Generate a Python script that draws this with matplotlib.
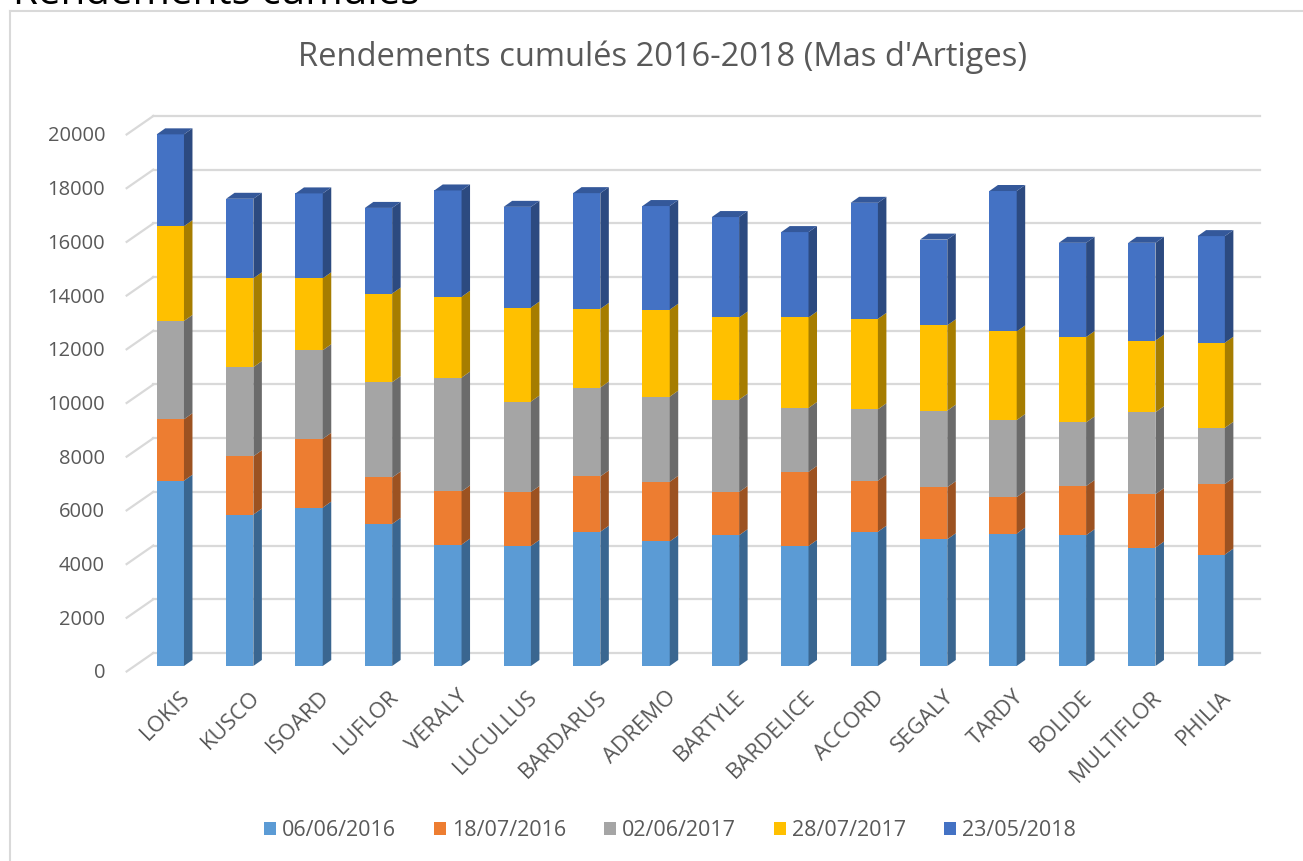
import matplotlib
matplotlib.use("Agg")
import matplotlib.pyplot as plt
from matplotlib.lines import Line2D
from matplotlib.transforms import ScaledTranslation
import numpy as np

# data (kg/ha per harvest)
varieties = ["LOKIS", "KUSCO", "ISOARD", "LUFLOR", "VERALY", "LUCULLUS", "BARDARUS",
             "ADREMO", "BARTYLE", "BARDELICE", "ACCORD", "SEGALY", "TARDY", "BOLIDE",
             "MULTIFLOR", "PHILIA"]
dates = ["06/06/2016", "18/07/2016", "02/06/2017", "28/07/2017", "23/05/2018"]
r_06_06_2016 = [6900, 5640, 5900, 5290, 4520, 4470, 5000, 4640, 4870, 4470, 5000, 4720, 4930, 4870, 4410, 4150]
r_18_07_2016 = [2290, 2170, 2560, 1730, 1980, 2010, 2060, 2220, 1610, 2760, 1900, 1940, 1360, 1830, 1990, 2630]
r_02_06_2017 = [3660, 3320, 3300, 3550, 4240, 3370, 3310, 3170, 3440, 2380, 2660, 2850, 2870, 2370, 3050, 2090]
r_28_07_2017 = [3530, 3310, 2680, 3300, 3010, 3500, 2930, 3240, 3060, 3370, 3370, 3180, 3300, 3180, 2670, 3170]
r_23_05_2018 = [3420, 2960, 3160, 3190, 3960, 3750, 4310, 3860, 3740, 3180, 4320, 3190, 5230, 3510, 3640, 3970]

series = [r_06_06_2016, r_18_07_2016, r_02_06_2017, r_28_07_2017, r_23_05_2018]
front = ["#5B9BD5", "#ED7D31", "#A5A5A5", "#FFC000", "#4472C4"]
side = ["#3A6690", "#9C5221", "#6B6B6B", "#A67D00", "#2C4A80"]
top_col = "#34589A"
grey_txt = "#595959"

plt.rcParams["font.family"] = ["Open Sans", "DejaVu Sans"]

fig = plt.figure(figsize=(13.03, 8.61), dpi=100)
ax = fig.add_axes([0.1041, 0.2265, 0.8521, 0.6237])
ax.set_xlim(-0.5, 15.5)
ax.set_ylim(0, 20000)
for s in ax.spines.values():
    s.set_visible(False)

def shift(dx, dy):
    # offset in pixels (dy up)
    return ax.transData + ScaledTranslation(dx / 100, dy / 100, fig.dpi_scale_trans)

# back wall gridlines + side wall stubs
yt = np.arange(0, 20001, 2000)
for v in yt:
    ax.plot([-0.5, 15.45], [v, v], color="#D9D9D9", lw=1.6, transform=shift(17.7, 13), clip_on=False, zorder=0)
    p0 = shift(-9, -5.5).transform((-0.5, v))
    p1 = shift(17.7, 13).transform((-0.5, v))
    fig.add_artist(Line2D([p0[0] / 1303, p1[0] / 1303], [p0[1] / 861, p1[1] / 861], color="#D9D9D9", lw=1.6))

x = np.arange(len(varieties))
w = 0.393
ddx = 8.5 / 69.4
ddy = 6 / 26.85 * 1000

bottom = np.zeros(len(varieties))
handles = []
for k, vals in enumerate(series):
    vals = np.array(vals)
    b = ax.bar(x, vals, w, bottom=bottom, color=front[k], edgecolor="none", zorder=2, clip_on=False)
    handles.append(b)
    for i in range(len(x)):
        xr = x[i] + w / 2
        y0, y1 = bottom[i], bottom[i] + vals[i]
        ax.fill([xr, xr + ddx, xr + ddx, xr], [y0, y0 + ddy, y1 + ddy, y1],
                color=side[k], lw=0, zorder=2, clip_on=False)
    bottom = bottom + vals

for i in range(len(x)):
    xl, xr = x[i] - w / 2, x[i] + w / 2
    t = bottom[i]
    ax.fill([xl, xl + ddx, xr + ddx, xr], [t, t + ddy, t + ddy, t], color=top_col, lw=0, zorder=2, clip_on=False)

ax.set_yticks(yt)
ax.set_yticklabels([str(v) for v in yt])
ax.tick_params(axis="y", length=0, pad=22, labelsize=14.5, labelcolor=grey_txt)
for lab in ax.get_yticklabels():
    lab.set_transform(lab.get_transform() + ScaledTranslation(0, -0.05, fig.dpi_scale_trans))

ax.set_xticks(x)
ax.set_xticklabels(varieties, rotation=45, ha="right", va="center", rotation_mode="anchor")
ax.tick_params(axis="x", length=0, pad=20, labelsize=16, labelcolor=grey_txt)
for lab in ax.get_xticklabels():
    lab.set_transform(lab.get_transform() + ScaledTranslation(0.17, 0, fig.dpi_scale_trans))

fig.text(662 / 1303, 1 - 57 / 861, "Rendements cumulés 2016-2018 (Mas d'Artiges)",
         ha="center", va="center", fontsize=23.5, color=grey_txt)

fig.legend(handles, dates, loc="center", bbox_to_anchor=(670 / 1303, 1 - 831 / 861), ncol=5,
           frameon=False, fontsize=15.5, handlelength=0.55, handleheight=0.55,
           handletextpad=0.3, columnspacing=1.75, labelcolor=grey_txt)

# chart frame and clipped heading above it
fig.add_artist(Line2D([10 / 1303, 10 / 1303], [0, 1 - 11 / 861], color="#D9D9D9", lw=1.5))
fig.add_artist(Line2D([10 / 1303, 1], [1 - 11 / 861, 1 - 11 / 861], color="#D9D9D9", lw=1.5))
fig.text(13 / 1303, 1 - 4 / 861, "Rendements cumulés", ha="left", va="baseline", fontsize=29, color="black")

fig.savefig("out.png", dpi=100)
